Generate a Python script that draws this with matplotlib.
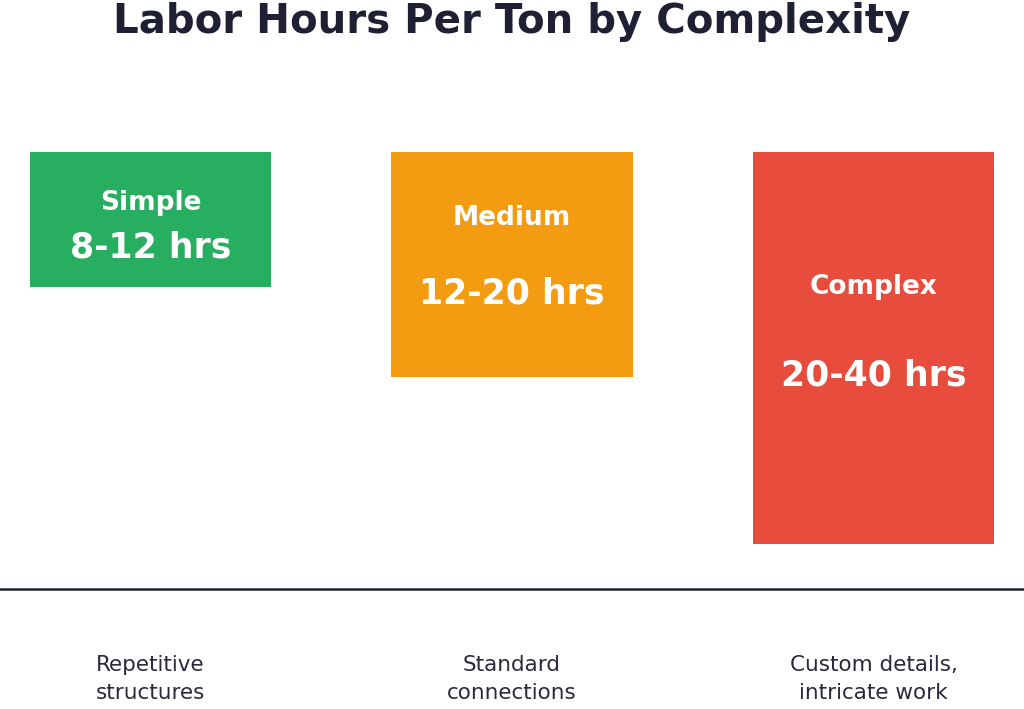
import matplotlib
matplotlib.use('Agg')
import matplotlib.pyplot as plt

categories = ['Simple', 'Medium', 'Complex']
ranges = ['8-12 hrs', '12-20 hrs', '20-40 hrs']
bar_heights = [12, 20, 34.8]  # upper hours drawn (complex bar)
descriptions = ['Repetitive\nstructures', 'Standard\nconnections', 'Custom details,\nintricate work']
colors = ['#27ae60', '#f39c12', '#e74c3c']

PX = 11.25  # pixels per hour unit
TOP = 152


def py(px):
    # pixel row -> data y
    return (px - TOP) / PX


fig = plt.figure(figsize=(10.24, 7.09), dpi=100)
ax = fig.add_axes([0, 0, 1, 1])
x = range(len(categories))
ax.bar(x, bar_heights, width=0.667, color=colors)
ax.set_xlim(-0.416, 2.416)
ax.set_ylim(py(709), py(0))
ax.axis('off')

fig.text(0.5, 1 - 22 / 709, 'Labor Hours Per Ton by Complexity', ha='center', va='center',
         fontsize=29, fontweight='bold', color='#1f2033')

name_px = [203, 218, 287]
range_px = [247, 293, 376]
for i in x:
    ax.text(i, py(name_px[i]), categories[i], ha='center', va='center', color='white',
            fontsize=19, fontweight='bold')
    ax.text(i, py(range_px[i]), ranges[i], ha='center', va='center', color='white',
            fontsize=25, fontweight='bold')
    ax.text(i, py(679), descriptions[i], ha='center', va='center', color='#2a2a3a',
            fontsize=15.5, linespacing=1.45)

ax.axhline(py(589), color='#1f2033', lw=1.8)

fig.savefig('out.png', dpi=100)
